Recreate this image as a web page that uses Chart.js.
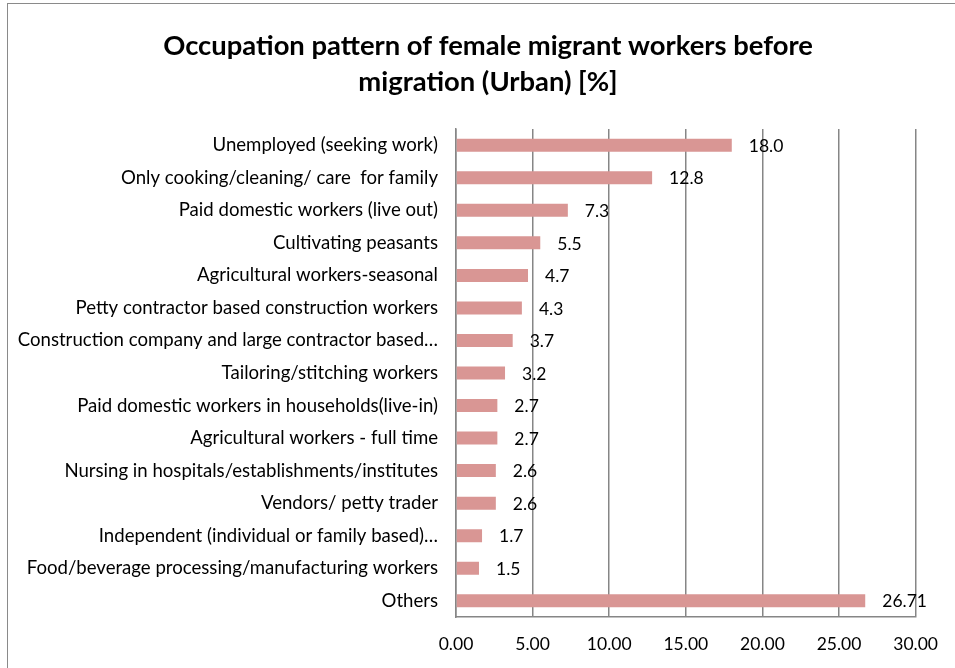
<!DOCTYPE html>
<html>
<head>
<meta charset="utf-8">
<script src="https://cdn.jsdelivr.net/npm/chart.js@4.4.1/dist/chart.umd.min.js"></script>
<style>
    html, body { margin: 0; padding: 0; background: #fff; overflow: hidden; }
    #frame {
        position: absolute; left: 7px; top: 3px; width: 980px; height: 720px;
        border: 1.5px solid #8a8a8a; box-sizing: border-box;
    }
    #wrap { position: absolute; left: 0; top: 0; width: 955px; height: 668px; }
</style>
</head>
<body>
<div id="frame"></div>
<div id="wrap"><canvas id="occChart" width="955" height="668"></canvas></div>
<script>
// Occupation categories (top to bottom)
const categories = [
    'Unemployed (seeking work)',
    'Only cooking/cleaning/ care  for family',
    'Paid domestic workers (live out)',
    'Cultivating peasants',
    'Agricultural workers-seasonal',
    'Petty contractor based construction workers',
    'Construction company and large contractor based…',
    'Tailoring/stitching workers',
    'Paid domestic workers in households(live-in)',
    'Agricultural workers - full time',
    'Nursing in hospitals/establishments/institutes',
    'Vendors/ petty trader',
    'Independent (individual or family based)…',
    'Food/beverage processing/manufacturing workers',
    'Others'
];

// Share of female migrant workers [%]
const shares = [18.0, 12.8, 7.3, 5.5, 4.7, 4.3, 3.7, 3.2, 2.7, 2.7, 2.6, 2.6, 1.7, 1.5, 26.71];

// Labels as printed next to the bars
const shareLabels = ['18.0', '12.8', '7.3', '5.5', '4.7', '4.3', '3.7', '3.2', '2.7', '2.7', '2.6', '2.6', '1.7', '1.5', '26.71'];

const titleLines = ['Occupation pattern of female migrant workers before', 'migration (Urban) [%]'];

const FONT = 'Lato, "Open Sans", sans-serif';
const GRID = '#868686';

// Title centred over the whole frame, not the plot
const frameTitle = {
    id: 'frameTitle',
    afterDraw(chart) {
        const ctx = chart.ctx;
        ctx.save();
        ctx.font = 'bold 27.4px ' + FONT;
        ctx.fillStyle = '#000';
        ctx.textAlign = 'center';
        ctx.textBaseline = 'middle';
        titleLines.forEach((line, i) => {
            ctx.fillText(line, 488, 46 + i * 36);
        });
        ctx.restore();
    }
};

// Draw value labels to the right of each bar
const valueLabels = {
    id: 'valueLabels',
    afterDatasetsDraw(chart) {
        const ctx = chart.ctx;
        const meta = chart.getDatasetMeta(0);
        ctx.save();
        ctx.font = '17.5px ' + FONT;
        ctx.fillStyle = '#000';
        ctx.textAlign = 'left';
        ctx.textBaseline = 'middle';
        meta.data.forEach((bar, i) => {
            ctx.fillText(shareLabels[i], bar.x + 17, bar.y + 1);
        });
        ctx.restore();
    }
};

new Chart(document.getElementById('occChart'), {
    type: 'bar',
    data: {
        labels: categories,
        datasets: [{
            data: shares,
            backgroundColor: '#D99694',
            borderWidth: 0,
            barPercentage: 0.8,
            categoryPercentage: 0.5
        }]
    },
    options: {
        indexAxis: 'y',
        responsive: false,
        animation: false,
        layout: { padding: { left: 0, right: 39, top: 129, bottom: 0 } },
        plugins: {
            legend: { display: false },
            tooltip: { enabled: false },
            title: { display: false }
        },
        scales: {
            x: {
                min: 0,
                max: 30,
                ticks: {
                    stepSize: 5,
                    color: '#000',
                    padding: 17,
                    font: { family: FONT, size: 17.5 },
                    callback: v => v.toFixed(2)
                },
                grid: { color: GRID, lineWidth: 1.5, drawTicks: false },
                border: { display: true, color: GRID, width: 1.5 },
                afterFit: scale => { scale.height = 51; }
            },
            y: {
                ticks: {
                    color: '#000',
                    padding: 18,
                    font: { family: FONT, size: 18.6 }
                },
                grid: { display: false, drawTicks: false },
                border: { display: true, color: GRID, width: 1.5 },
                afterFit: scale => { scale.width = 456; }
            }
        }
    },
    plugins: [valueLabels, frameTitle]
});
</script>
</body>
</html>
